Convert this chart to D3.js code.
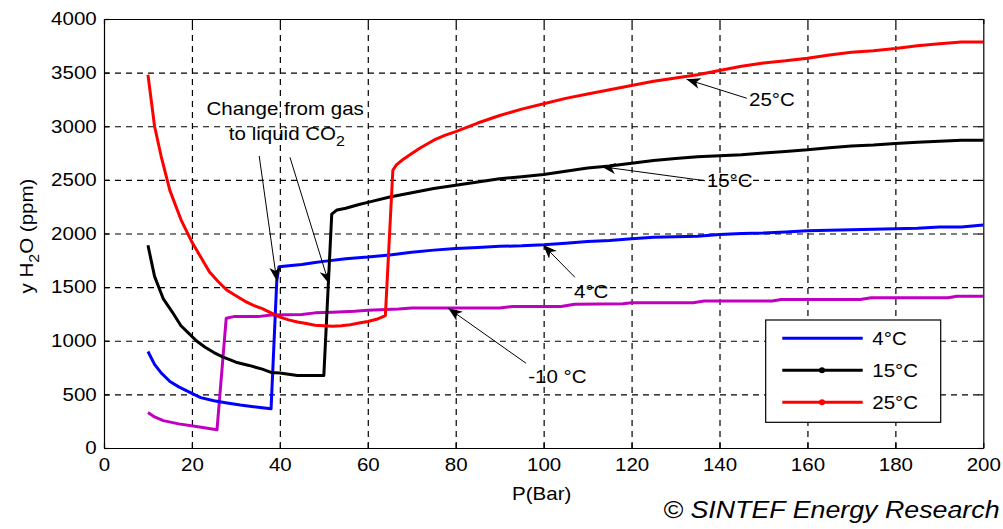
<!DOCTYPE html>
<html>
<head>
<meta charset="utf-8">
<script src="https://cdn.jsdelivr.net/npm/d3@7"></script>
<style>
  body { margin: 0; background: #fff; }
  text { font-family: "Liberation Sans", Arial, sans-serif; fill: #000; }
</style>
</head>
<body>
<div id="chart"></div>
<script>
// data: pressure (bar) and water content (ppm)
const p25 = [10, 11.5, 13, 15, 17.5, 20, 22, 24, 26, 28, 30, 32, 34, 36, 38, 40, 42, 44, 46, 48, 50, 52, 54, 56, 58, 60, 62, 64, 65.7, 66.5, 68, 70, 72, 75, 77.5, 80, 85, 90, 95, 100, 105, 110, 115, 120, 125, 130, 135, 140, 145, 150, 155, 160, 165, 170, 175, 180, 185, 190, 195, 200];
const h25 = [3480, 3000, 2720, 2400, 2130, 1920, 1780, 1640, 1550, 1470, 1420, 1370, 1330, 1300, 1260, 1220, 1195, 1175, 1160, 1145, 1140, 1135, 1140, 1150, 1165, 1180, 1200, 1235, 2590, 2640, 2690, 2745, 2800, 2870, 2915, 2950, 3030, 3100, 3160, 3210, 3260, 3300, 3340, 3380, 3420, 3450, 3480, 3520, 3560, 3590, 3610, 3635, 3665, 3690, 3705, 3725, 3750, 3770, 3785, 3785];

const p15 = [10, 11.5, 13.5, 15.5, 17.5, 19, 21, 23, 25, 27, 30, 33, 36, 38, 40, 44, 50, 51.8, 53, 55, 58, 60, 65, 70, 75, 80, 85, 90, 95, 100, 105, 110, 115, 120, 125, 130, 135, 140, 145, 150, 155, 160, 165, 170, 175, 180, 185, 190, 195, 200];
const h15 = [1890, 1600, 1390, 1270, 1140, 1080, 1000, 940, 890, 850, 800, 770, 735, 705, 700, 675, 675, 2180, 2220, 2235, 2270, 2290, 2340, 2380, 2420, 2450, 2480, 2510, 2530, 2550, 2580, 2610, 2630, 2655, 2680, 2700, 2715, 2725, 2735, 2750, 2765, 2780, 2800, 2815, 2825, 2840, 2850, 2860, 2870, 2870];

const p4 = [10, 11.5, 13, 15, 17, 20, 22, 25, 28, 31, 34, 36, 38, 39.3, 39.8, 42, 45, 48, 50, 55, 60, 65, 70, 75, 80, 85, 90, 95, 100, 105, 110, 115, 120, 125, 130, 135, 140, 145, 150, 155, 160, 165, 170, 175, 180, 185, 190, 195, 200];
const h4 = [900, 780, 700, 620, 570, 510, 470, 440, 420, 400, 385, 375, 365, 1560, 1690, 1700, 1710, 1730, 1740, 1765, 1780, 1800, 1825, 1845, 1860, 1870, 1880, 1885, 1895, 1910, 1925, 1935, 1950, 1965, 1970, 1975, 1990, 2000, 2005, 2015, 2025, 2030, 2035, 2040, 2045, 2050, 2060, 2060, 2080];

const pm10 = [10, 11.5, 13.5, 17, 21, 25.7, 27.8, 29.5, 35, 38, 45, 48, 52, 57, 60, 67, 70, 90, 93, 104, 107, 118, 120, 134, 136.5, 152, 154, 172, 174.5, 192, 194, 200];
const hm10 = [330, 290, 255, 225, 200, 170, 1210, 1225, 1225, 1240, 1245, 1260, 1265, 1275, 1285, 1295, 1305, 1305, 1320, 1320, 1340, 1345, 1355, 1355, 1370, 1370, 1385, 1385, 1400, 1400, 1415, 1415];

const xTicks = [0, 20, 40, 60, 80, 100, 120, 140, 160, 180, 200];
const yTicks = [0, 500, 1000, 1500, 2000, 2500, 3000, 3500, 4000];

const legendLabels = ["4°C", "15°C", "25°C"];

// arrow annotations (data coordinates)
const annoLabels = ["25°C", "15°C", "4°C", "-10 °C"];
const annoTipP = [132.5, 113.2, 99.9, 78.3];
const annoTipV = [3438, 2623, 1893, 1303];
const annoTailP = [146.2, 136.7, 107.1, 96];
const annoTailV = [3261, 2492, 1592, 790];
const annoTextP = [146.7, 137.1, 106.9, 96.5];
const annoTextV = [3189, 2434, 1396, 609];

const changeTipP = [39.3, 51.2];
const changeTipV = [1557, 1529];
const changeTailP = [35.3, 42.3];
const changeTailV = [2723, 2710];

//svg container
const svgWidth = 1003;
const svgHeight = 529;
const margin = { top: 19, right: 19.7, bottom: 81, left: 104 };
const width = svgWidth - margin.left - margin.right;
const height = svgHeight - margin.top - margin.bottom;
const sx = 1.14; // the reference type is a bit stretched sideways

const svg = d3.select("#chart")
  .append("svg")
  .attr("width", svgWidth)
  .attr("height", svgHeight);

const chartGroup = svg.append("g")
  .attr("transform", `translate(${margin.left}, ${margin.top})`);

const xScale = d3.scaleLinear().domain([0, 200]).range([0, width]);
const yScale = d3.scaleLinear().domain([0, 4000]).range([height, 0]);

// dashed grid
chartGroup.append("g")
  .attr("transform", `translate(0, ${height})`)
  .call(d3.axisBottom(xScale).tickValues(xTicks.slice(1, -1)).tickSize(-height).tickFormat(""))
  .call(g => g.select(".domain").remove())
  .selectAll("line").attr("stroke", "#444").attr("stroke-dasharray", "6,5");
chartGroup.append("g")
  .call(d3.axisLeft(yScale).tickValues(yTicks.slice(1, -1)).tickSize(-width).tickFormat(""))
  .call(g => g.select(".domain").remove())
  .selectAll("line").attr("stroke", "#444").attr("stroke-dasharray", "6,5");

// box with inward ticks
const xAxis = d3.axisBottom(xScale).tickValues(xTicks).tickFormat(d3.format("d"))
  .tickSizeInner(-5).tickSizeOuter(0).tickPadding(10);
const yAxis = d3.axisLeft(yScale).tickValues(yTicks).tickFormat(d3.format("d"))
  .tickSizeInner(-5).tickSizeOuter(0).tickPadding(6.4);
chartGroup.append("g").attr("transform", `translate(0, ${height})`).call(xAxis);
chartGroup.append("g").call(yAxis);
chartGroup.append("g")
  .call(d3.axisTop(xScale).tickValues(xTicks).tickSizeInner(-5).tickSizeOuter(0).tickFormat(""));
chartGroup.append("g").attr("transform", `translate(${width}, 0)`)
  .call(d3.axisRight(yScale).tickValues(yTicks).tickSizeInner(-5).tickSizeOuter(0).tickFormat(""));
chartGroup.selectAll(".domain, .tick line").attr("stroke", "#000").attr("stroke-width", 1.2);
chartGroup.selectAll(".tick text")
  .attr("font-size", 18)
  .attr("font-family", "Liberation Sans, Arial, sans-serif")
  .attr("fill", "#000")
  .attr("transform", `scale(${sx},1)`);

// curves
svg.append("clipPath").attr("id", "plotClip")
  .append("rect").attr("width", width).attr("height", height);

const line = d3.line()
  .x(d => xScale(d[0]))
  .y(d => yScale(d[1]));

const seriesList = [
  { p: pm10, h: hm10, color: "#bf00bf" },
  { p: p4, h: h4, color: "#0000ff" },
  { p: p15, h: h15, color: "#000000" },
  { p: p25, h: h25, color: "#ff0000" }
];
const curves = chartGroup.append("g").attr("clip-path", "url(#plotClip)");
seriesList.forEach(s => {
  curves.append("path")
    .datum(d3.zip(s.p, s.h))
    .attr("d", line)
    .attr("fill", "none")
    .attr("stroke", s.color)
    .attr("stroke-width", 3)
    .attr("stroke-linejoin", "round");
});

// arrows
function arrow(x1, y1, x2, y2) {
  chartGroup.append("line")
    .attr("x1", x1).attr("y1", y1).attr("x2", x2).attr("y2", y2)
    .attr("stroke", "#000").attr("stroke-width", 1);
  const ang = Math.atan2(y2 - y1, x2 - x1) * 180 / Math.PI;
  chartGroup.append("path")
    .attr("d", "M0,0 L-14,-5.5 L-10,0 L-14,5.5 Z")
    .attr("transform", `translate(${x2},${y2}) rotate(${ang})`)
    .attr("fill", "#000");
}

function addText(g, x, y, str, size, anchor) {
  return g.append("text")
    .attr("transform", `translate(${x},${y}) scale(${sx},1)`)
    .attr("font-size", size)
    .attr("text-anchor", anchor || "start")
    .text(str);
}

annoLabels.forEach((lab, i) => {
  arrow(xScale(annoTailP[i]), yScale(annoTailV[i]), xScale(annoTipP[i]), yScale(annoTipV[i]));
  addText(chartGroup, xScale(annoTextP[i]), yScale(annoTextV[i]), lab, 18);
});

changeTipP.forEach((p, i) => {
  arrow(xScale(changeTailP[i]), yScale(changeTailV[i]), xScale(p), yScale(changeTipV[i]));
});
addText(chartGroup, xScale(41.2), yScale(3105), "Change from gas", 18, "middle");
const co2 = addText(chartGroup, xScale(41.6), yScale(2872), "to liquid CO", 18, "middle");
co2.append("tspan").attr("dy", 6).attr("font-size", 14).text("2");

// axis labels
addText(svg, 541.7, 500, "P(Bar)", 18, "middle");
const yLab = svg.append("text")
  .attr("transform", `translate(33, 236) rotate(-90) scale(${sx},1)`)
  .attr("font-size", 18)
  .attr("text-anchor", "middle");
yLab.append("tspan").text("y H");
yLab.append("tspan").attr("dy", 6).attr("font-size", 14).text("2");
yLab.append("tspan").attr("dy", -6).text("O (ppm)");

// legend
const legend = svg.append("g").attr("transform", "translate(765.7, 320)");
legend.append("rect")
  .attr("width", 175).attr("height", 102.3)
  .attr("fill", "#fff").attr("stroke", "#000").attr("stroke-width", 1.2);
const legendColors = ["#0000ff", "#000000", "#ff0000"];
const legendMarker = [false, true, true];
legendLabels.forEach((lab, i) => {
  const ly = 18.3 + i * 32;
  legend.append("line")
    .attr("x1", 16.6).attr("x2", 97).attr("y1", ly).attr("y2", ly)
    .attr("stroke", legendColors[i]).attr("stroke-width", 3);
  if (legendMarker[i]) {
    legend.append("circle").attr("cx", 56.3).attr("cy", ly).attr("r", 3)
      .attr("fill", legendColors[i]);
  }
  addText(legend, 106.6, ly + 6.6, lab, 18);
});

// copyright
addText(svg, 663.3, 518.3, "© SINTEF Energy Research", 23.5).attr("font-style", "italic");
</script>
</body>
</html>
